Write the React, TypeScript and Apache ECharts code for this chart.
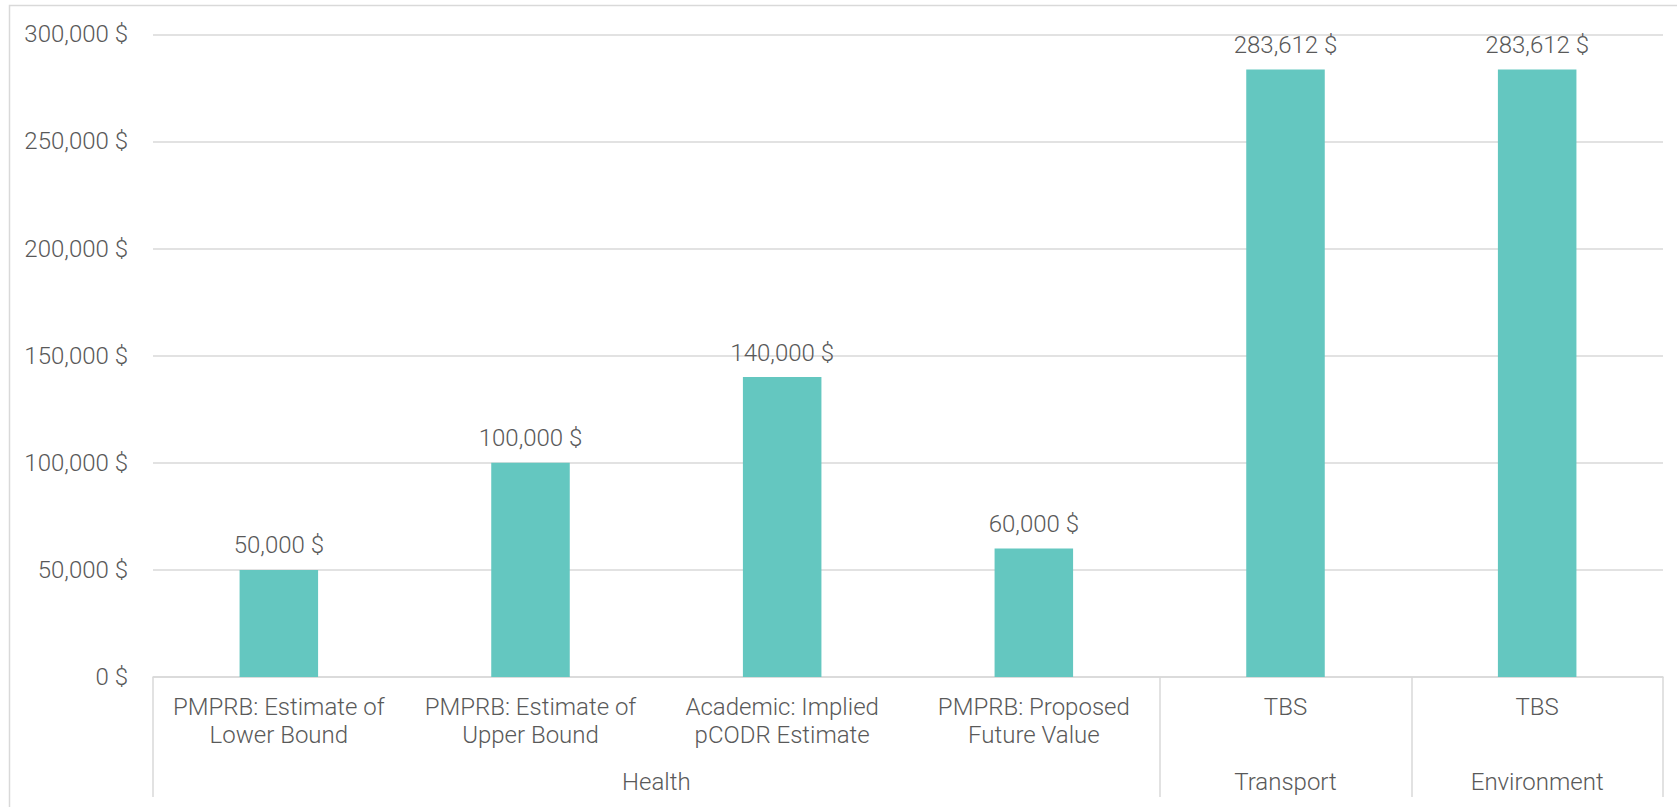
import React, { useEffect, useRef } from "react";
import * as echarts from "echarts";

const categories = [
  "PMPRB: Estimate of\nLower Bound",
  "PMPRB: Estimate of\nUpper Bound",
  "Academic: Implied\npCODR Estimate",
  "PMPRB: Proposed\nFuture Value",
  "TBS",
  "TBS",
];
const values = [50000, 100000, 140000, 60000, 283612, 283612];
const groupNames = ["Health", "Transport", "Environment"];
const groupSpans = [4, 1, 1];
const yMin = 0;
const yMax = 300000;
const yInterval = 50000;

const fmtMoney = (v: number) => Number(v).toLocaleString("en-US") + " $";

export default function App() {
  const ref = useRef<HTMLDivElement>(null);
  useEffect(() => {
    if (!ref.current) return;
    const chart = echarts.init(ref.current, undefined, { renderer: "svg" });

    const boundaries: number[] = [0];
    const centers: number[] = [];
    let acc = 0;
    groupSpans.forEach((s) => {
      centers.push(acc + s / 2);
      acc += s;
      boundaries.push(acc);
    });

    const textColor = "#595959";
    const lineColor = "#d9d9d9";
    const font = "Roboto";
    const fs = 24;

    chart.setOption({
      animation: false,
      backgroundColor: "#ffffff",
      textStyle: { fontFamily: font, fontWeight: 300 },
      graphic: [
        {
          type: "rect",
          shape: { x: 9.5, y: 5.5, width: 1720, height: 900 },
          style: { fill: "none", stroke: lineColor, lineWidth: 1.5 },
          silent: true,
        },
      ],
      grid: { left: 153, right: 14, top: 34.3, bottom: 130 },
      xAxis: [
        {
          type: "category",
          data: categories,
          position: "bottom",
          axisLine: { show: true, lineStyle: { color: lineColor, width: 1.5 } },
          axisTick: { show: false },
          axisLabel: {
            interval: 0,
            color: textColor,
            fontFamily: font,
            fontWeight: 300,
            fontSize: fs,
            lineHeight: 28,
            margin: 16,
          },
        },
        {
          type: "value",
          min: 0,
          max: boundaries[boundaries.length - 1],
          position: "bottom",
          axisLine: { show: false },
          splitLine: { show: false },
          axisTick: {
            show: true,
            inside: false,
            length: 120,
            customValues: boundaries,
            lineStyle: { color: lineColor, width: 1.5 },
          },
          axisLabel: {
            show: true,
            customValues: centers,
            formatter: (v: number) => {
              const i = centers.findIndex((c) => Math.abs(c - v) < 1e-6);
              return i >= 0 ? groupNames[i] : "";
            },
            color: textColor,
            fontFamily: font,
            fontWeight: 300,
            fontSize: fs,
            lineHeight: 28,
            margin: 91,
          },
        },
      ],
      yAxis: {
        type: "value",
        min: yMin,
        max: yMax,
        interval: yInterval,
        axisLine: { show: false },
        axisTick: { show: false },
        splitLine: { show: true, lineStyle: { color: lineColor, width: 1.5 } },
        axisLabel: {
          color: textColor,
          fontFamily: font,
          fontWeight: 300,
          fontSize: fs,
          margin: 25,
          formatter: (v: number) => fmtMoney(v),
        },
      },
      series: [
        {
          type: "bar",
          xAxisIndex: 0,
          data: values,
          barWidth: "31.2%",
          itemStyle: { color: "#64C7C0" },
          label: {
            show: true,
            position: "top",
            distance: 12.5,
            color: textColor,
            fontFamily: font,
            fontWeight: 300,
            fontSize: fs,
            lineHeight: 24,
            formatter: (p: any) => fmtMoney(p.value),
          },
        },
      ],
    });
    return () => chart.dispose();
  }, []);
  return (
    <div
      ref={ref}
      style={{ position: "fixed", left: 0, top: 0, width: 1677, height: 807 }}
    />
  );
}
